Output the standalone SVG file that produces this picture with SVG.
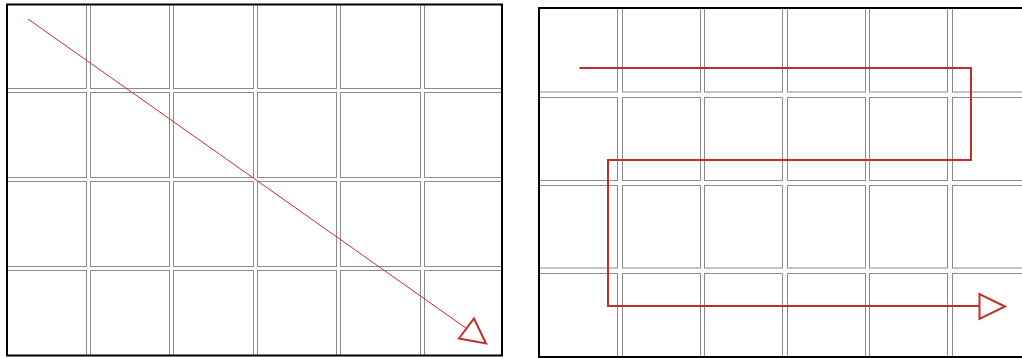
<svg xmlns="http://www.w3.org/2000/svg" width="1022" height="358" viewBox="0 0 1022 358">
<style>
.tile{fill:none;stroke:#8c8c8c;stroke-width:1}
.frame{fill:none;stroke:#000;stroke-width:2}
.route{fill:none;stroke:#c0302b;stroke-linejoin:miter}
.head{fill:#fff;stroke:#c0302b;stroke-width:2;stroke-linejoin:miter}
</style>
<defs>
<clipPath id="cl"><rect x="7" y="4" width="495" height="352"/></clipPath>
<clipPath id="cr"><rect x="539" y="8" width="490" height="352"/></clipPath>
</defs>
<rect width="1022" height="358" fill="#fff"/>
<g id="left-panel">
<g clip-path="url(#cl)">
<g id="left-tiles">
<rect class="tile" x="2.5" y="-0.5" width="84" height="89"/>
<rect class="tile" x="90.5" y="-0.5" width="79" height="89"/>
<rect class="tile" x="173.5" y="-0.5" width="80" height="89"/>
<rect class="tile" x="257.5" y="-0.5" width="79" height="89"/>
<rect class="tile" x="340.5" y="-0.5" width="80" height="89"/>
<rect class="tile" x="424.5" y="-0.5" width="90" height="89"/>
<rect class="tile" x="2.5" y="92.5" width="84" height="85"/>
<rect class="tile" x="90.5" y="92.5" width="79" height="85"/>
<rect class="tile" x="173.5" y="92.5" width="80" height="85"/>
<rect class="tile" x="257.5" y="92.5" width="79" height="85"/>
<rect class="tile" x="340.5" y="92.5" width="80" height="85"/>
<rect class="tile" x="424.5" y="92.5" width="90" height="85"/>
<rect class="tile" x="2.5" y="181.5" width="84" height="85"/>
<rect class="tile" x="90.5" y="181.5" width="79" height="85"/>
<rect class="tile" x="173.5" y="181.5" width="80" height="85"/>
<rect class="tile" x="257.5" y="181.5" width="79" height="85"/>
<rect class="tile" x="340.5" y="181.5" width="80" height="85"/>
<rect class="tile" x="424.5" y="181.5" width="90" height="85"/>
<rect class="tile" x="2.5" y="270.5" width="84" height="95"/>
<rect class="tile" x="90.5" y="270.5" width="79" height="95"/>
<rect class="tile" x="173.5" y="270.5" width="80" height="95"/>
<rect class="tile" x="257.5" y="270.5" width="79" height="95"/>
<rect class="tile" x="340.5" y="270.5" width="80" height="95"/>
<rect class="tile" x="424.5" y="270.5" width="90" height="95"/>
</g>
</g>
<rect class="frame" x="7" y="4.5" width="495" height="351"/>
</g>
<g id="right-panel">
<g clip-path="url(#cr)">
<g id="right-tiles">
<rect class="tile" x="534.5" y="3.5" width="83" height="88.5"/>
<rect class="tile" x="622.5" y="3.5" width="78" height="88.5"/>
<rect class="tile" x="704.5" y="3.5" width="78" height="88.5"/>
<rect class="tile" x="787.5" y="3.5" width="78" height="88.5"/>
<rect class="tile" x="869.5" y="3.5" width="78" height="88.5"/>
<rect class="tile" x="952.5" y="3.5" width="90" height="88.5"/>
<rect class="tile" x="534.5" y="97.5" width="83" height="83"/>
<rect class="tile" x="622.5" y="97.5" width="78" height="83"/>
<rect class="tile" x="704.5" y="97.5" width="78" height="83"/>
<rect class="tile" x="787.5" y="97.5" width="78" height="83"/>
<rect class="tile" x="869.5" y="97.5" width="78" height="83"/>
<rect class="tile" x="952.5" y="97.5" width="90" height="83"/>
<rect class="tile" x="534.5" y="185.5" width="83" height="82.5"/>
<rect class="tile" x="622.5" y="185.5" width="78" height="82.5"/>
<rect class="tile" x="704.5" y="185.5" width="78" height="82.5"/>
<rect class="tile" x="787.5" y="185.5" width="78" height="82.5"/>
<rect class="tile" x="869.5" y="185.5" width="78" height="82.5"/>
<rect class="tile" x="952.5" y="185.5" width="90" height="82.5"/>
<rect class="tile" x="534.5" y="273.5" width="83" height="95"/>
<rect class="tile" x="622.5" y="273.5" width="78" height="95"/>
<rect class="tile" x="704.5" y="273.5" width="78" height="95"/>
<rect class="tile" x="787.5" y="273.5" width="78" height="95"/>
<rect class="tile" x="869.5" y="273.5" width="78" height="95"/>
<rect class="tile" x="952.5" y="273.5" width="90" height="95"/>
</g>
</g>
<rect class="frame" x="539" y="8" width="500" height="349"/>
</g>
<g id="connectors">
<line class="route" x1="28" y1="19" x2="466.5" y2="328.5" stroke-width="1"/>
<polygon class="head" points="486,343.5 474,318.5 459,338.5"/>
<polyline class="route" stroke-width="2" points="579.5,68 971,68 971,160 608,160 608,306 979.5,306"/>
<polygon class="head" points="1005,306.5 979.5,294 979.5,319"/>
</g>
</svg>
